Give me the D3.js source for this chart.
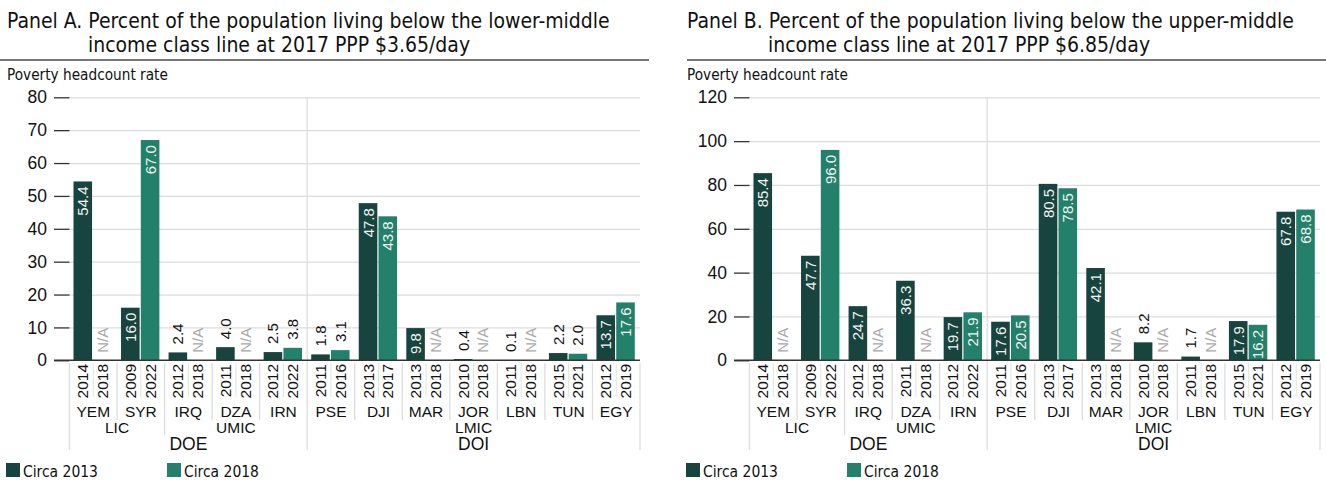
<!DOCTYPE html>
<html>
<head>
<meta charset="utf-8">
<script src="https://cdn.jsdelivr.net/npm/d3@7"></script>
<style>
  body { margin: 0; background: #fff; }
  svg { display: block; }
</style>
</head>
<body>
<svg id="chart" width="1326" height="480"></svg>
<script>
// --- data ---
const countries = ['YEM', 'SYR', 'IRQ', 'DZA', 'IRN', 'PSE', 'DJI', 'MAR', 'JOR', 'LBN', 'TUN', 'EGY'];
const incomeGroups = ['LIC', 'LIC', 'UMIC', 'UMIC', 'UMIC', 'LMIC', 'LMIC', 'LMIC', 'LMIC', 'LMIC', 'LMIC', 'LMIC'];
const regions = ['DOE', 'DOE', 'DOE', 'DOE', 'DOE', 'DOI', 'DOI', 'DOI', 'DOI', 'DOI', 'DOI', 'DOI'];
const yearsCirca2013 = ['2014', '2009', '2012', '2011', '2012', '2011', '2013', '2013', '2010', '2011', '2015', '2012'];
const yearsCirca2018 = ['2018', '2022', '2018', '2018', '2022', '2016', '2017', '2018', '2018', '2018', '2021', '2019'];

const panelA2013 = [54.4, 16.0, 2.4, 4.0, 2.5, 1.8, 47.8, 9.8, 0.4, 0.1, 2.2, 13.7];
const panelA2018 = [null, 67.0, null, null, 3.8, 3.1, 43.8, null, null, null, 2.0, 17.6];
const panelB2013 = [85.4, 47.7, 24.7, 36.3, 19.7, 17.6, 80.5, 42.1, 8.2, 1.7, 17.9, 67.8];
const panelB2018 = [null, 96.0, null, null, 21.9, 20.5, 78.5, null, null, null, 16.2, 68.8];

const panelATicks = [0, 10, 20, 30, 40, 50, 60, 70, 80];
const panelBTicks = [0, 20, 40, 60, 80, 100, 120];

const seriesNames = ['Circa 2013', 'Circa 2018'];
const colors = { 'Circa 2013': '#17443f', 'Circa 2018': '#23806b' };

const condensed = "'Liberation Sans Narrow', 'DejaVu Sans Condensed', 'Roboto Condensed', sans-serif";
const sans = "'Liberation Sans', Arial, Helvetica, sans-serif";

const svg = d3.select('#chart');

// scale a text's font-size so it spans the given width
function fitWidth(sel, target) {
  const w = sel.node().getComputedTextLength();
  const fs = parseFloat(sel.attr('font-size'));
  const size = fs * target / w;
  sel.attr('font-size', size);
  return size;
}

function drawPanel(opts) {
  const ox = opts.ox;
  const left = ox + 69.5, right = ox + 640;
  const y0 = 360.3, yTop = 97.3;
  const g = svg.append('g');

  // title
  const t1 = g.append('text')
    .attr('x', ox + 7).attr('y', 28)
    .attr('font-family', condensed).attr('font-size', 22).attr('fill', '#111')
    .attr('font-weight', 500)
    .text(opts.title1);
  const titleSize = fitWidth(t1, opts.titleWidth);
  g.append('text')
    .attr('x', ox + 88).attr('y', 52)
    .attr('font-family', condensed).attr('font-size', titleSize).attr('fill', '#111')
    .attr('font-weight', 500)
    .text(opts.title2);

  g.append('line')
    .attr('x1', opts.ruleStart).attr('x2', opts.ruleEnd)
    .attr('y1', 60).attr('y2', 60)
    .attr('stroke', '#777').attr('stroke-width', 2);

  const yTitle = g.append('text')
    .attr('x', ox + 7).attr('y', 80)
    .attr('font-family', condensed).attr('font-size', 16).attr('fill', '#111')
    .text('Poverty headcount rate');
  fitWidth(yTitle, 161);

  // scales
  const y = d3.scaleLinear().domain([0, opts.max]).range([y0, yTop]);
  const x = d3.scaleBand().domain(countries).range([left, right])
    .paddingInner(0.168).paddingOuter(0.084);
  const xSub = d3.scaleBand().domain(seriesNames).range([0, x.bandwidth()]);

  // grid
  g.append('g')
    .attr('transform', `translate(${left},0)`)
    .call(d3.axisLeft(y).tickValues(opts.ticks.filter(d => d > 0)).tickSize(-(right - left)).tickFormat(''))
    .call(a => a.select('.domain').remove())
    .call(a => a.selectAll('line').attr('stroke', '#dcdcdc').attr('stroke-width', 1.2));

  // y axis ticks + labels
  g.append('g')
    .attr('transform', `translate(${left},0)`)
    .call(d3.axisLeft(y).tickValues(opts.ticks).tickSize(15.5).tickPadding(7))
    .call(a => a.select('.domain').remove())
    .call(a => a.selectAll('line').attr('stroke', '#333').attr('stroke-width', 1.3))
    .call(a => a.selectAll('text').attr('font-family', sans).attr('font-size', 17.5).attr('fill', '#111'));

  // separators under the axis
  const step = x.step();
  const boundary = i => left + i * step;
  for (let i = 0; i <= countries.length; i++) {
    let top = 363, bottom = 420;
    const regionChange = i === 0 || i === countries.length || regions[i] !== regions[i - 1];
    const groupChange = regionChange || incomeGroups[i] !== incomeGroups[i - 1];
    if (regionChange) bottom = 450;
    else if (groupChange) bottom = 435;
    if (regionChange && i > 0 && i < countries.length) top = yTop;
    g.append('line')
      .attr('x1', boundary(i)).attr('x2', boundary(i))
      .attr('y1', top).attr('y2', bottom)
      .attr('stroke', '#dddddd').attr('stroke-width', 1.3);
  }
  countries.forEach(c => {
    const cx = x(c) + x.bandwidth() / 2;
    g.append('line')
      .attr('x1', cx).attr('x2', cx).attr('y1', 363).attr('y2', 397)
      .attr('stroke', '#dbe8d8').attr('stroke-width', 1);
  });

  // bars
  const rows = [];
  countries.forEach((c, i) => {
    rows.push({ c, s: 'Circa 2013', v: opts.v13[i], year: yearsCirca2013[i] });
    rows.push({ c, s: 'Circa 2018', v: opts.v18[i], year: yearsCirca2018[i] });
  });
  const barW = xSub.bandwidth() - 1.2;

  g.append('g').selectAll('rect')
    .data(rows.filter(d => d.v !== null))
    .join('rect')
    .attr('x', d => x(d.c) + xSub(d.s))
    .attr('y', d => y(d.v))
    .attr('width', barW)
    .attr('height', d => y0 - y(d.v))
    .attr('fill', d => colors[d.s]);

  // baseline
  g.append('line')
    .attr('x1', ox + 54).attr('x2', right)
    .attr('y1', y0).attr('y2', y0)
    .attr('stroke', '#333').attr('stroke-width', 1.5);

  // value labels
  rows.forEach(d => {
    const cx = x(d.c) + xSub(d.s) + barW / 2;
    const t = g.append('text')
      .attr('font-family', sans).attr('font-size', 15)
      .attr('dominant-baseline', 'central')
      .text(d.v === null ? 'N/A' : d.v.toFixed(1));
    if (d.v === null) {
      t.attr('fill', '#aaaaaa').attr('text-anchor', 'start')
        .attr('transform', `translate(${cx},${y0 - 7.5}) rotate(-90)`);
      return;
    }
    const len = t.node().getComputedTextLength();
    const h = y0 - y(d.v);
    if (h >= len + 3) {
      t.attr('fill', '#f2f2f2').attr('text-anchor', 'end')
        .attr('transform', `translate(${cx},${y(d.v) + 5}) rotate(-90)`);
    } else {
      t.attr('fill', '#111').attr('text-anchor', 'start')
        .attr('transform', `translate(${cx},${y(d.v) - 8}) rotate(-90)`);
    }
  });

  // year labels
  rows.forEach(d => {
    const cx = x(d.c) + xSub(d.s) + barW / 2;
    g.append('text')
      .attr('font-family', sans).attr('font-size', 15.5).attr('fill', '#111')
      .attr('dominant-baseline', 'central').attr('text-anchor', 'end')
      .attr('transform', `translate(${cx},364) rotate(-90)`)
      .text(d.year);
  });

  // country labels
  g.append('g').selectAll('text')
    .data(countries)
    .join('text')
    .attr('x', c => x(c) + x.bandwidth() / 2)
    .attr('y', 417)
    .attr('text-anchor', 'middle')
    .attr('font-family', sans).attr('font-size', 15.5).attr('fill', '#111')
    .text(c => c);

  // income group and region labels
  const spans = (keys) => {
    const out = [];
    keys.forEach((k, i) => {
      const last = out[out.length - 1];
      const sameRegion = last && regions[last.start] === regions[i];
      if (last && last.key === k && sameRegion) last.end = i;
      else out.push({ key: k, start: i, end: i });
    });
    return out;
  };
  spans(incomeGroups).forEach(s => {
    g.append('text')
      .attr('x', (boundary(s.start) + boundary(s.end + 1)) / 2).attr('y', 433)
      .attr('text-anchor', 'middle')
      .attr('font-family', sans).attr('font-size', 15.5).attr('fill', '#111')
      .text(s.key);
  });
  spans(regions).forEach(s => {
    g.append('text')
      .attr('x', (boundary(s.start) + boundary(s.end + 1)) / 2).attr('y', 449.5)
      .attr('text-anchor', 'middle')
      .attr('font-family', sans).attr('font-size', 17.5).attr('fill', '#111')
      .text(s.key);
  });

  // legend
  const legendX = [ox + 6, ox + 167];
  seriesNames.forEach((s, i) => {
    g.append('rect')
      .attr('x', legendX[i]).attr('y', 463)
      .attr('width', 14).attr('height', 14)
      .attr('fill', colors[s]);
    const lt = g.append('text')
      .attr('x', legendX[i] + 17).attr('y', 476.5)
      .attr('font-family', condensed).attr('font-size', 16).attr('fill', '#111')
      .text(s);
    fitWidth(lt, 75);
  });
}

drawPanel({
  ox: 0, ruleStart: 0, ruleEnd: 649, titleWidth: 603,
  title1: 'Panel A. Percent of the population living below the lower-middle',
  title2: 'income class line at 2017 PPP $3.65/day',
  max: 80, ticks: panelATicks, v13: panelA2013, v18: panelA2018
});
drawPanel({
  ox: 680, ruleStart: 687, ruleEnd: 1326, titleWidth: 607,
  title1: 'Panel B. Percent of the population living below the upper-middle',
  title2: 'income class line at 2017 PPP $6.85/day',
  max: 120, ticks: panelBTicks, v13: panelB2013, v18: panelB2018
});
</script>
</body>
</html>
